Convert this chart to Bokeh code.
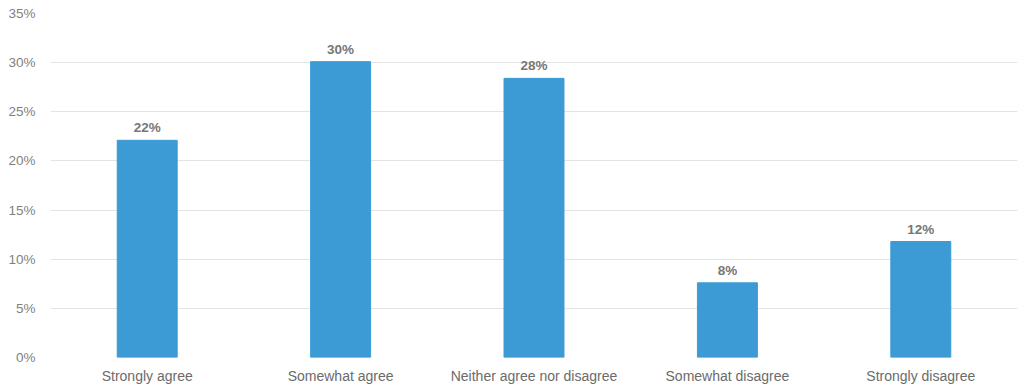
from bokeh.plotting import figure
from bokeh.models import ColumnDataSource, FactorRange, FixedTicker, LabelSet, Range1d, CustomJSTickFormatter
from bokeh.core.properties import value
from bokeh.embed import file_html
from bokeh.resources import INLINE

categories = ["Strongly agree", "Somewhat agree", "Neither agree nor disagree", "Somewhat disagree", "Strongly disagree"]
values = [22.1, 30.1, 28.4, 7.6, 11.8]
labels = ["22%", "30%", "28%", "8%", "12%"]
y_ticks = [0, 5, 10, 15, 20, 25, 30, 35]

src = ColumnDataSource(dict(cat=categories, val=values, lab=labels))

p = figure(x_range=FactorRange(*categories, range_padding=0), y_range=Range1d(0, 35),
           width=1019, height=386, output_backend="svg", toolbar_location=None,
           min_border_left=50, min_border_right=2, min_border_top=13, min_border_bottom=23)
p.outline_line_color = None
p.vbar(x="cat", top="val", width=0.31, source=src, color="#3C9BD5")

lbl = LabelSet(x="cat", y="val", text="lab", source=src, text_align="center", text_baseline="bottom",
               y_offset=5, text_font=value("Liberation Sans"), text_font_style="bold",
               text_font_size="13.5px", text_color="#777777")
p.add_layout(lbl)

p.yaxis.ticker = FixedTicker(ticks=y_ticks)
p.yaxis.formatter = CustomJSTickFormatter(code="return tick + '%';")
for ax in (p.xaxis[0], p.yaxis[0]):
    ax.axis_line_color = None
    ax.major_tick_line_color = None
    ax.minor_tick_line_color = None
    ax.major_label_text_font = "Liberation Sans"
p.xaxis.major_label_text_font_size = "14px"
p.xaxis.major_label_text_color = "#6b6b6b"
p.yaxis.major_label_text_font_size = "13.5px"
p.yaxis.major_label_text_color = "#7f7f7f"
p.yaxis.major_label_standoff = 9
p.xaxis.major_label_standoff = 4
p.xgrid.grid_line_color = None
p.ygrid.grid_line_color = "#E3E3E3"
p.ygrid.grid_line_width = 1

open("out.html", "w").write(file_html(p, INLINE))
